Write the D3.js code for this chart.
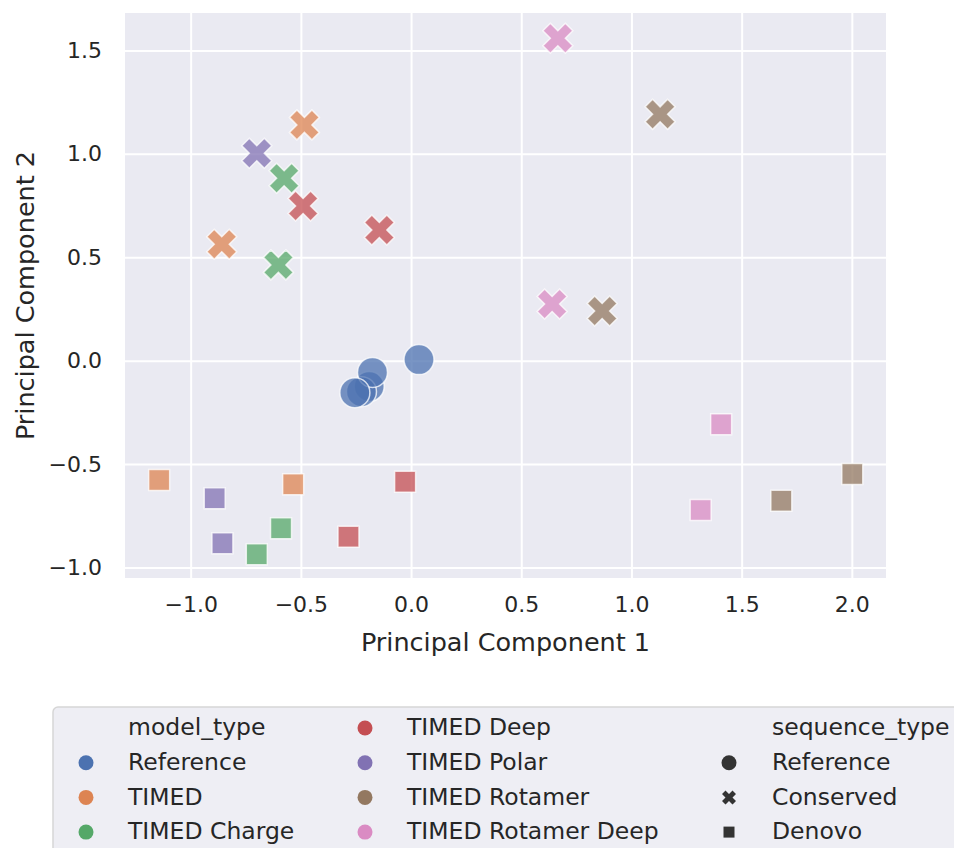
<!DOCTYPE html>
<html>
<head>
<meta charset="utf-8">
<script src="https://cdn.jsdelivr.net/npm/d3@7"></script>
<style>
  html, body { margin: 0; padding: 0; background: #ffffff; }
  svg text { font-family: "DejaVu Sans", sans-serif; fill: #262626; }
</style>
</head>
<body>
<svg id="chart" width="954" height="848"></svg>
<script>
// PCA projection of designed sequences, coloured by model and shaped by sequence type.
const modelTypes = ["Reference", "TIMED", "TIMED Charge", "TIMED Deep", "TIMED Polar", "TIMED Rotamer", "TIMED Rotamer Deep"];
const sequenceTypes = ["Reference", "Conserved", "Denovo"];

// one entry per point
const pointModel = [
  "Reference", "Reference", "Reference", "Reference", "Reference",
  "TIMED", "TIMED Polar", "TIMED Charge", "TIMED Deep", "TIMED Deep", "TIMED", "TIMED Charge",
  "TIMED Rotamer Deep", "TIMED Rotamer", "TIMED Rotamer Deep", "TIMED Rotamer",
  "TIMED", "TIMED Polar", "TIMED", "TIMED Charge", "TIMED Polar", "TIMED Charge", "TIMED Deep", "TIMED Deep",
  "TIMED Rotamer Deep", "TIMED Rotamer Deep", "TIMED Rotamer", "TIMED Rotamer"
];
const pointSequence = [
  "Reference", "Reference", "Reference", "Reference", "Reference",
  "Conserved", "Conserved", "Conserved", "Conserved", "Conserved", "Conserved", "Conserved",
  "Conserved", "Conserved", "Conserved", "Conserved",
  "Denovo", "Denovo", "Denovo", "Denovo", "Denovo", "Denovo", "Denovo", "Denovo",
  "Denovo", "Denovo", "Denovo", "Denovo"
];
const pc1 = [
  -0.19, -0.225, -0.175, -0.255, 0.036,
  -0.484, -0.70, -0.576, -0.49, -0.144, -0.859, -0.602,
  0.666, 1.130, 0.640, 0.867,
  -1.143, -0.891, -0.535, -0.590, -0.856, -0.700, -0.284, -0.027,
  1.407, 1.314, 1.680, 2.002
];
const pc2 = [
  -0.125, -0.150, -0.057, -0.155, 0.005,
  1.140, 1.003, 0.882, 0.748, 0.632, 0.563, 0.463,
  1.559, 1.191, 0.274, 0.240,
  -0.577, -0.665, -0.598, -0.810, -0.883, -0.936, -0.851, -0.585,
  -0.308, -0.722, -0.677, -0.548
];

const xTicks = [-1.0, -0.5, 0.0, 0.5, 1.0, 1.5, 2.0];
const yTicks = [-1.0, -0.5, 0.0, 0.5, 1.0, 1.5];

const palette = ["#4C72B0", "#DD8452", "#55A868", "#C44E52", "#8172B3", "#937860", "#DA8BC3"];

// filled "X" marker (same outline as matplotlib's 'X'); size = squared extent
const symbolXFilled = {
  draw(context, size) {
    const s = Math.sqrt(size) / 4;
    const pts = [[-1, -2], [0, -1], [1, -2], [2, -1], [1, 0], [2, 1],
                 [1, 2], [0, 1], [-1, 2], [-2, 1], [-1, 0], [-2, -1]];
    context.moveTo(pts[0][0] * s, pts[0][1] * s);
    for (let i = 1; i < pts.length; i++) context.lineTo(pts[i][0] * s, pts[i][1] * s);
    context.closePath();
  }
};
const shapeType = d3.scaleOrdinal().domain(sequenceTypes).range([d3.symbolCircle, symbolXFilled, d3.symbolSquare]);
// symbol areas giving a 30px circle, a 30px X and a 21px square
const plotSize = d3.scaleOrdinal().domain(sequenceTypes).range([Math.PI * 15 * 15, 30 * 30, 21 * 21]);
const legendSize = d3.scaleOrdinal().domain(sequenceTypes).range([Math.PI * 7.5 * 7.5, 14 * 14, 11 * 11]);
const color = d3.scaleOrdinal().domain(modelTypes).range(palette);

const svg = d3.select("#chart");
const plot = { left: 125, right: 886, top: 13, bottom: 578 };

const x = d3.scaleLinear().domain([-1.298, 2.155]).range([plot.left, plot.right]);
const y = d3.scaleLinear().domain([-1.051, 1.681]).range([plot.bottom, plot.top]);

// axes background
svg.append("rect")
  .attr("x", plot.left).attr("y", plot.top)
  .attr("width", plot.right - plot.left).attr("height", plot.bottom - plot.top)
  .attr("fill", "#EAEAF2");

// grid + tick labels via d3 axes
const fmt = d3.format(".1f");
const xAxis = svg.append("g")
  .attr("transform", `translate(0,${plot.bottom})`)
  .call(d3.axisBottom(x).tickValues(xTicks).tickFormat(fmt)
    .tickSize(-(plot.bottom - plot.top)).tickPadding(18));
const yAxis = svg.append("g")
  .attr("transform", `translate(${plot.left},0)`)
  .call(d3.axisLeft(y).tickValues(yTicks).tickFormat(fmt)
    .tickSize(-(plot.right - plot.left)).tickPadding(23));
[xAxis, yAxis].forEach(g => {
  g.select(".domain").remove();
  g.selectAll(".tick line").attr("stroke", "#ffffff").attr("stroke-width", 2);
  g.selectAll(".tick text").attr("font-size", 22).attr("fill", "#262626")
    .style("font-family", "DejaVu Sans");
});

// axis titles
svg.append("text")
  .attr("x", (plot.left + plot.right) / 2).attr("y", 651)
  .attr("text-anchor", "middle").attr("font-size", 25.5)
  .text("Principal Component 1");
svg.append("text")
  .attr("transform", `translate(34,${(plot.top + plot.bottom) / 2}) rotate(-90)`)
  .attr("text-anchor", "middle").attr("font-size", 25.5)
  .text("Principal Component 2");

// points
const points = pc1.map((v, i) => ({ x: v, y: pc2[i], model: pointModel[i], seq: pointSequence[i] }));
svg.append("g").selectAll("path")
  .data(points)
  .join("path")
  .attr("transform", d => `translate(${x(d.x)},${y(d.y)})`)
  .attr("d", d => d3.symbol(shapeType(d.seq), plotSize(d.seq))())
  .attr("fill", d => color(d.model))
  .attr("fill-opacity", 0.75)
  .attr("stroke", "#ffffff")
  .attr("stroke-opacity", 0.75)
  .attr("stroke-width", 1.5);

// legend
const legend = svg.append("g");
legend.append("rect")
  .attr("x", 53).attr("y", 707).attr("width", 940).attr("height", 200)
  .attr("rx", 5)
  .attr("fill", "#EEEEF4").attr("stroke", "#D6D6D6").attr("stroke-width", 1.5);

const rowY = i => 727 + i * 34.7;
const legendEntries = [];
legendEntries.push({ col: 0, row: 0, label: "model_type", title: true });
modelTypes.forEach((m, i) => {
  const slot = i + 1;
  legendEntries.push({ col: Math.floor(slot / 4), row: slot % 4, label: m, model: m });
});
legendEntries.push({ col: 2, row: 0, label: "sequence_type", title: true });
sequenceTypes.forEach((s, i) => legendEntries.push({ col: 2, row: i + 1, label: s, seq: s }));

const colMarkerX = [86, 365, 729];
const colTextX = [128, 407, 772];

const items = legend.selectAll("g.item").data(legendEntries).join("g").attr("class", "item");
items.filter(d => !d.title).append("path")
  .attr("transform", d => `translate(${colMarkerX[d.col]},${rowY(d.row) + 1})`)
  .attr("d", d => d.model
    ? d3.symbol(d3.symbolCircle, legendSize("Reference"))()
    : d3.symbol(shapeType(d.seq), legendSize(d.seq))())
  .attr("fill", d => d.model ? color(d.model) : "#333333");
items.append("text")
  .attr("x", d => colTextX[d.col]).attr("y", d => rowY(d.row))
  .attr("dy", "0.35em")
  .attr("font-size", 23.5)
  .text(d => d.label);
</script>
</body>
</html>
